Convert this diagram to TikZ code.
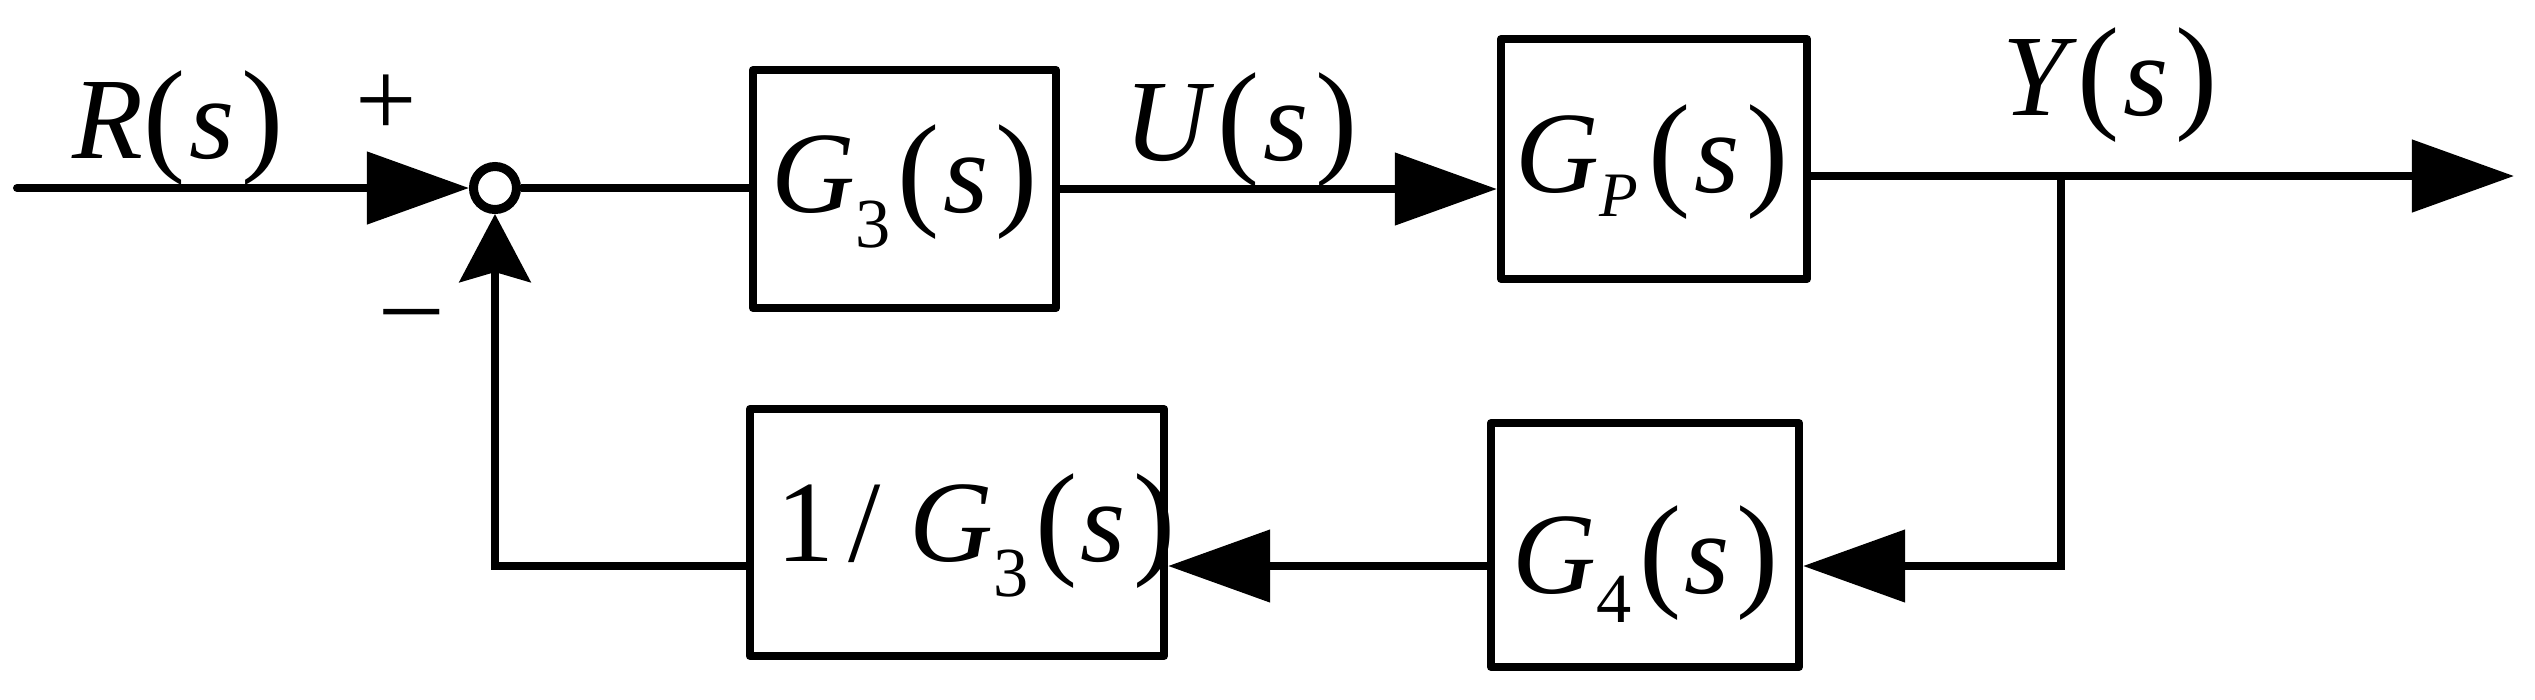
\documentclass[tikz,border=0pt]{standalone}
\usepackage{fontspec}
\setmainfont{Liberation Serif}
\usetikzlibrary{arrows.meta}
\newcommand\fsz{\fontsize{33}{36}\selectfont}
\newcommand\pl{{\fontsize{36}{36}\selectfont(}}
\newcommand\pr{{\fontsize{36}{36}\selectfont)}}
\newcommand\ssub[2]{\raisebox{-#1}{\fontsize{20}{20}\selectfont #2}}
\newcommand\iv[1]{\textit{#1}}
\tikzset{
  blk/.style={draw, line width=0.08cm, line join=round, inner sep=0pt},
  wire/.style={line width=0.08cm},
  tri/.style={-{Triangle[length=1.02cm,width=0.71cm]}},
  stl/.style={-{Stealth[length=0.68cm,width=0.71cm,inset=0.1cm]}},
  sumc/.style={draw, circle, line width=0.09cm, minimum size=0.43cm, inner sep=0pt},
  lbl/.style={inner sep=0pt, anchor=base, font=\fsz},
  sgn/.style={inner sep=0pt, anchor=base, font=\fontsize{31}{34}\selectfont}
}
\begin{document}
\begin{tikzpicture}[x=0.01cm,y=-0.01cm]
\useasboundingbox (0,0) rectangle (2535,699);
% blocks
\node[blk, minimum width=3.03cm, minimum height=2.38cm] (g3) at (904.5,189) {};
\node[blk, minimum width=3.06cm, minimum height=2.40cm] (gp) at (1654,159) {};
\node[blk, minimum width=3.08cm, minimum height=2.44cm] (g4) at (1645,545) {};
\node[blk, minimum width=4.14cm, minimum height=2.47cm] (ig3) at (957,532.5) {};
\node[sumc] (sum) at (495,188) {};
% texts
\node[lbl] (g3t) at (905,212) {\iv{G}\ssub{10pt}{3}\kern2pt\pl\kern1pt\iv{s}\kern2pt\pr};
\node[lbl] (gpt) at (1652,192) {\iv{G}\ssub{7pt}{\fontsize{18}{20}\selectfont\iv{P}}\kern3pt\pl\kern1pt\iv{s}\kern2pt\pr};
\node[lbl] (g4t) at (1646,593) {\iv{G}\ssub{8.5pt}{4}\kern2pt\pl\kern1pt\iv{s}\kern2pt\pr};
\node[lbl] (ig3t) at (976,561) {1\kern4pt/\kern8pt\iv{G}\ssub{10pt}{3}\kern2pt\pl\kern1pt\iv{s}\kern2pt\pr};
\node[lbl] (rt) at (178,158) {\iv{R}\pl\kern1pt\iv{s}\kern2pt\pr};
\node[lbl] (ut) at (1241,160) {\iv{U}\kern1pt\pl\kern1pt\iv{s}\kern2pt\pr};
\node[lbl] (yt) at (2110,115) {\iv{Y}\pl\kern1pt\iv{s}\kern2pt\pr};
\node[sgn] (plus) at (386,136) {+};
\node[sgn] (minus) at (412,337) {–};
% connectors
\coordinate (in) at (17,188);
\coordinate (br) at (2061,176);
\coordinate (out) at (2514,176);
\coordinate (fb) at (2061,566);
\coordinate (fc) at (495,566);
\draw[wire, tri, line cap=round] (in) -- (sum.west);
\draw[wire] (sum.east) -- (sum.east -| g3.west);
\draw[wire, tri] (g3.east) -- (g3.east -| gp.west);
\draw[wire, tri] (gp.east |- out) -- (out);
\draw[wire, tri] (br) -- (fb) -- (fb -| g4.east);
\draw[wire, tri] (g4.west |- fb) -- (ig3.east |- fb);
\draw[wire, stl] (ig3.west |- fb) -- (fc) -- (sum.south);
\end{tikzpicture}
\end{document}
